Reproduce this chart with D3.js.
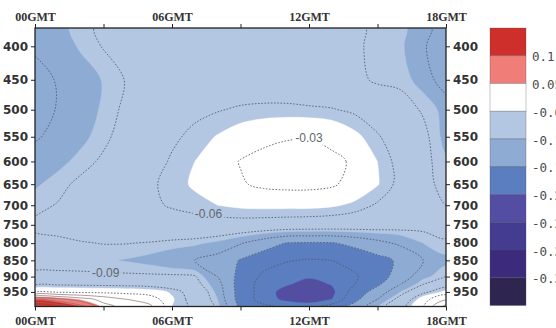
<!DOCTYPE html>
<html><head><meta charset="utf-8">
<script src="https://cdn.jsdelivr.net/npm/d3@7"></script>
<style>
html,body{margin:0;padding:0;background:#fff;}
svg{display:block;}
</style></head>
<body>
<svg id="chart" width="556" height="328"></svg>
<script>
// Grid: hours (GMT) across, pressure levels (hPa) down
const times = [0,1,2,3,4,5,6,7,8,9,10,11,12,13,14,15,16,17,18];
const pressures = [375,400,450,500,550,600,650,700,750,800,850,900,925,950,975,1000];

// Field values per pressure level, one entry per hour
const w375  = [-0.115,-0.106,-0.094,-0.087,-0.083,-0.080,-0.078,-0.077,-0.076,-0.076,-0.076,-0.077,-0.078,-0.081,-0.087,-0.093,-0.097,-0.107,-0.140];
const w400  = [-0.118,-0.109,-0.098,-0.089,-0.083,-0.079,-0.077,-0.076,-0.075,-0.074,-0.074,-0.075,-0.076,-0.080,-0.088,-0.093,-0.097,-0.115,-0.150];
const w450  = [-0.125,-0.119,-0.108,-0.099,-0.089,-0.082,-0.078,-0.076,-0.074,-0.072,-0.071,-0.071,-0.073,-0.077,-0.085,-0.093,-0.094,-0.106,-0.135];
const w500  = [-0.127,-0.119,-0.107,-0.098,-0.086,-0.078,-0.070,-0.064,-0.061,-0.058,-0.057,-0.057,-0.058,-0.059,-0.063,-0.072,-0.082,-0.092,-0.105];
const w550  = [-0.122,-0.115,-0.104,-0.094,-0.082,-0.072,-0.063,-0.056,-0.049,-0.042,-0.036,-0.032,-0.031,-0.036,-0.046,-0.058,-0.072,-0.085,-0.105];
const w600  = [-0.113,-0.104,-0.096,-0.087,-0.078,-0.068,-0.058,-0.050,-0.039,-0.029,-0.023,-0.020,-0.021,-0.025,-0.033,-0.050,-0.066,-0.085,-0.098];
const w650  = [-0.102,-0.095,-0.086,-0.079,-0.072,-0.063,-0.055,-0.048,-0.039,-0.032,-0.026,-0.024,-0.024,-0.027,-0.038,-0.049,-0.065,-0.085,-0.095];
const w700  = [-0.094,-0.089,-0.082,-0.076,-0.070,-0.064,-0.058,-0.054,-0.050,-0.047,-0.046,-0.046,-0.046,-0.048,-0.053,-0.062,-0.075,-0.086,-0.090];
const w750  = [-0.087,-0.085,-0.082,-0.079,-0.076,-0.073,-0.070,-0.068,-0.067,-0.067,-0.068,-0.069,-0.070,-0.071,-0.073,-0.076,-0.080,-0.084,-0.087];
const w800  = [-0.094,-0.093,-0.091,-0.0895,-0.0895,-0.091,-0.094,-0.097,-0.104,-0.118,-0.135,-0.151,-0.153,-0.152,-0.142,-0.128,-0.115,-0.100,-0.091];
const w850  = [-0.095,-0.095,-0.096,-0.098,-0.101,-0.105,-0.112,-0.120,-0.130,-0.152,-0.168,-0.178,-0.182,-0.180,-0.172,-0.160,-0.145,-0.120,-0.105];
const w900  = [-0.087,-0.087,-0.087,-0.087,-0.087,-0.087,-0.087,-0.088,-0.120,-0.160,-0.185,-0.195,-0.198,-0.195,-0.183,-0.165,-0.135,-0.105,-0.090];
const w925  = [-0.062,-0.062,-0.063,-0.064,-0.065,-0.067,-0.072,-0.082,-0.110,-0.165,-0.190,-0.198,-0.207,-0.199,-0.180,-0.155,-0.120,-0.090,-0.070];
const w950  = [-0.035,-0.035,-0.036,-0.037,-0.039,-0.042,-0.052,-0.070,-0.105,-0.165,-0.190,-0.208,-0.225,-0.205,-0.170,-0.135,-0.100,-0.065,-0.045];
const w975  = [0.085,0.070,0.045,0.020,0.000,-0.015,-0.048,-0.068,-0.100,-0.165,-0.190,-0.205,-0.210,-0.200,-0.158,-0.120,-0.080,-0.040,-0.005];
const w1000 = [0.160,0.140,0.100,0.040,0.020,0.008,-0.050,-0.065,-0.095,-0.160,-0.175,-0.185,-0.190,-0.170,-0.140,-0.100,-0.070,-0.030,0.040];

// Shaded intervals (lowest first) and their colours
const fillLevels = [-0.35,-0.3,-0.25,-0.2,-0.15,-0.1,-0.05,0.05,0.1];
const fillColors = ["#2e2650","#3c2a7d","#443c91","#534ea3","#5a7ebf","#8eabd4","#b3c7e2","#ffffff","#f07d78","#cf2f2a"];

// Isolines
const lineLevels = [-0.21,-0.18,-0.15,-0.12,-0.09,-0.06,-0.03,0,0.03,0.06,0.09,0.12,0.15];
const contourLabels = [
  {level:-0.03, t:12.0, p:552},
  {level:-0.06, t:7.6,  p:722},
  {level:-0.09, t:3.1,  p:888}
];

// Axis ticks
const majorTimes = [0,6,12,18];
const timeTickLabels = ["00GMT","06GMT","12GMT","18GMT"];
const allTimeTicks = [0,3,6,9,12,15,18];
const pressureTicks = [400,450,500,550,600,650,700,750,800,850,900,950];

const svg = d3.select("#chart");
const plot = {left:35, right:446, top:28, bottom:306.5};

const x = d3.scaleLinear().domain([0,18]).range([plot.left, plot.right]);
const y = d3.scaleLog().domain([375,1000]).range([plot.top, plot.bottom]);

const field = [w375,w400,w450,w500,w550,w600,w650,w700,w750,w800,w850,w900,w925,w950,w975,w1000];
const nx = times.length, ny = pressures.length;
const values = field.flat();

// grid index -> pixel
const gx = d3.scaleLinear().domain(d3.range(nx)).range(times.map(x));
const gy = d3.scaleLinear().domain(d3.range(ny)).range(pressures.map(y));

const ringLine = d3.line()
  .x(d => gx(d[0] - 0.5))
  .y(d => gy(d[1] - 0.5))
  .curve(d3.curveCatmullRomClosed.alpha(0.5));
const pathOf = geom => geom.coordinates
  .map(poly => poly.map(ring => ringLine(ring.slice(0, -1))).join(""))
  .join("");

const defs = svg.append("defs");
defs.append("clipPath").attr("id","plotClip").append("rect")
  .attr("x", plot.left).attr("y", plot.top)
  .attr("width", plot.right - plot.left).attr("height", plot.bottom - plot.top);

// Filled bands
const fillContours = d3.contours().size([nx, ny])
  .thresholds([d3.min(values) - 1, ...fillLevels])(values);
svg.append("g").attr("clip-path","url(#plotClip)")
  .selectAll("path").data(fillContours).join("path")
  .attr("d", d => pathOf(d))
  .attr("fill", (d, i) => fillColors[i])
  .attr("stroke", (d, i) => fillColors[i])
  .attr("stroke-width", 0.4);

// Label gaps in the isolines
const mask = defs.append("mask").attr("id","labelGap")
  .attr("maskUnits","userSpaceOnUse").attr("x",0).attr("y",0).attr("width",556).attr("height",328);
mask.append("rect").attr("x",0).attr("y",0).attr("width",556).attr("height",328).attr("fill","#fff");

const lineContours = d3.contours().size([nx, ny]).thresholds(lineLevels)(values);
svg.append("g").attr("clip-path","url(#plotClip)")
  .append("g").attr("mask","url(#labelGap)")
  .selectAll("path").data(lineContours).join("path")
  .attr("d", d => pathOf(d))
  .attr("fill", "none")
  .attr("stroke", d => d.value < 0 ? "#555b68" : "#8a6a6a")
  .attr("stroke-width", d => d.value < 0 ? 1.0 : 0.8)
  .attr("stroke-dasharray", d => d.value < 0 ? "1.6,1.6" : null)
  .attr("stroke-opacity", 0.85);

const labelG = svg.append("g");
contourLabels.forEach(c => {
  const t = labelG.append("text")
    .attr("x", x(c.t)).attr("y", y(c.p))
    .attr("text-anchor","middle").attr("dominant-baseline","central")
    .attr("font-family","Liberation Sans, Arial, sans-serif")
    .attr("font-size", 12)
    .attr("fill","#62666e")
    .text(String(c.level));
  const b = t.node().getBBox();
  mask.append("rect").attr("x", b.x - 2).attr("y", b.y).attr("width", b.width + 4).attr("height", b.height)
    .attr("fill","#000");
});

// Frame
svg.append("rect")
  .attr("x", plot.left).attr("y", plot.top)
  .attr("width", plot.right - plot.left).attr("height", plot.bottom - plot.top)
  .attr("fill","none").attr("stroke","#222").attr("stroke-width",1.3);

// Axes
const timeFmt = t => { const k = majorTimes.indexOf(t); return k >= 0 ? timeTickLabels[k] : ""; };
function styleAxis(g, family, weight) {
  g.select(".domain").remove();
  g.selectAll(".tick line").attr("stroke","#222").attr("stroke-width",1);
  g.selectAll(".tick text").attr("fill","#333")
    .attr("font-family", family).attr("font-weight", weight).attr("font-size", 12);
}
svg.append("g").attr("transform",`translate(0,${plot.top})`)
  .call(d3.axisTop(x).tickValues(allTimeTicks).tickFormat(timeFmt).tickSize(4).tickPadding(3))
  .call(g => styleAxis(g, "Liberation Serif, Times New Roman, serif", "bold"));
svg.append("g").attr("transform",`translate(0,${plot.bottom})`)
  .call(d3.axisBottom(x).tickValues(allTimeTicks).tickFormat(timeFmt).tickSize(4).tickPadding(6))
  .call(g => styleAxis(g, "Liberation Serif, Times New Roman, serif", "bold"));
svg.append("g").attr("transform",`translate(${plot.left},0)`)
  .call(d3.axisLeft(y).tickValues(pressureTicks).tickFormat(d3.format("d")).tickSize(4).tickPadding(3))
  .call(g => styleAxis(g, "DejaVu Sans, sans-serif", "bold"));
svg.append("g").attr("transform",`translate(${plot.right},0)`)
  .call(d3.axisRight(y).tickValues(pressureTicks).tickFormat(d3.format("d")).tickSize(4).tickPadding(3))
  .call(g => styleAxis(g, "DejaVu Sans, sans-serif", "bold"));

// Colour bar (highest interval on top)
const barColors = fillColors.slice().reverse();
const barLabels = fillLevels.slice().reverse().map(String);
const bar = {x:490, w:36, top:28, bottom:305.5};
const by = d3.scaleLinear().domain([0, barColors.length]).range([bar.top, bar.bottom]);
const cb = svg.append("g");
cb.selectAll("rect").data(barColors).join("rect")
  .attr("x", bar.x).attr("y", (d, i) => by(i))
  .attr("width", bar.w).attr("height", (d, i) => by(i + 1) - by(i))
  .attr("fill", d => d)
  .attr("stroke", "rgba(80,80,90,0.45)").attr("stroke-width", 0.7);
cb.selectAll("text").data(barLabels).join("text")
  .attr("x", bar.x + bar.w + 6).attr("y", (d, i) => by(i + 1) + 1)
  .attr("dominant-baseline","central")
  .attr("font-family","DejaVu Sans Mono, monospace")
  .attr("font-size", 12.5)
  .attr("fill","#4a4a4a")
  .text(d => d);
</script>
</body></html>
